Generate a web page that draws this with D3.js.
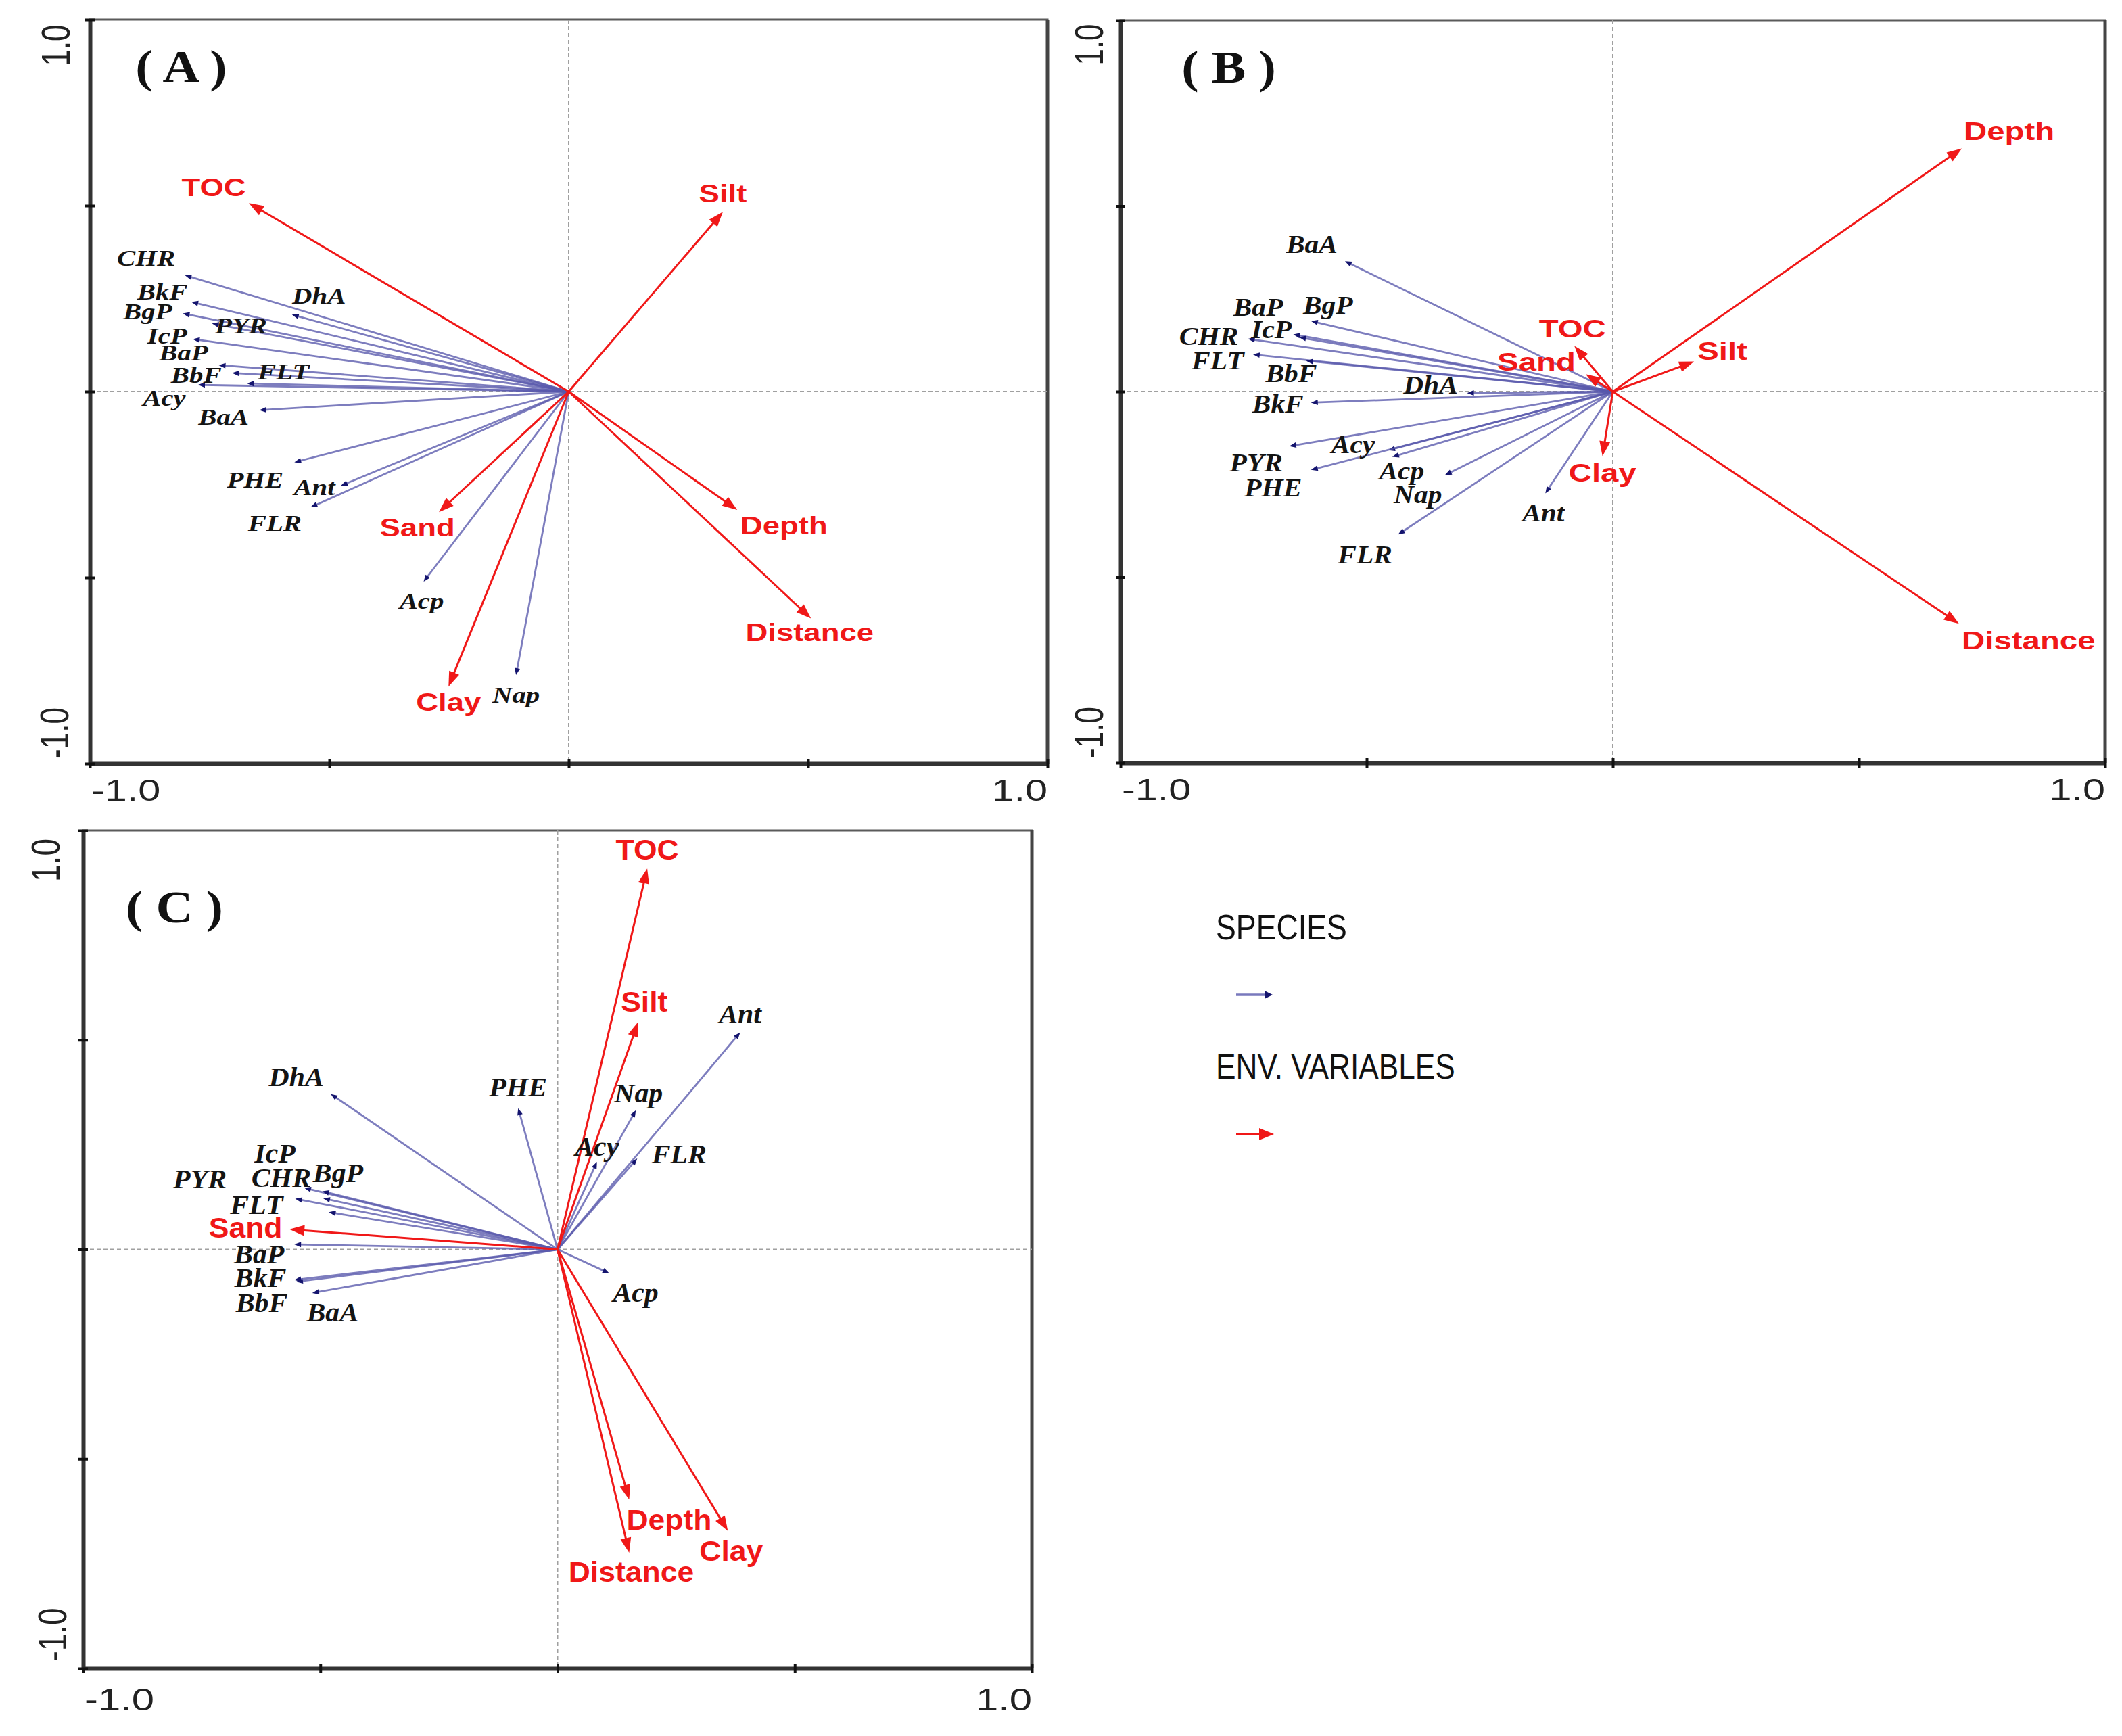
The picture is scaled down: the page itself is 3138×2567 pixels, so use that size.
<!DOCTYPE html>
<html><head><meta charset="utf-8">
<script src="https://cdn.jsdelivr.net/npm/d3@7"></script>
<style>html,body{margin:0;padding:0;background:#fff;} svg{display:block}</style>
</head><body>
<script>
// ---------------- DATA (ordination scores) ----------------
const speciesA = [
  ["Nap",-0.110,-0.762],["Acy",-0.774,0.018],["Acp",-0.303,-0.511],["FLR",-0.539,-0.311],
  ["PHE",-0.573,-0.190],["Ant",-0.476,-0.253],["FLT",-0.672,0.022],["PYR",-0.745,0.183],
  ["BaA",-0.646,-0.050],["CHR",-0.802,0.313],["BbF",-0.703,0.050],["BkF",-0.788,0.241],
  ["BaP",-0.731,0.071],["IcP",-0.785,0.141],["DhA",-0.578,0.207],["BgP",-0.806,0.210]
];
const envA = [
  ["TOC",-0.668,0.507],["Sand",-0.271,-0.324],["Silt",0.322,0.483],
  ["Clay",-0.251,-0.793],["Depth",0.352,-0.318],["Distance",0.506,-0.610]
];
const speciesB = [
  ["Nap",-0.341,-0.225],["Acy",-0.456,-0.158],["Acp",-0.448,-0.176],["FLR",-0.436,-0.385],
  ["PHE",-0.613,-0.211],["Ant",-0.137,-0.274],["FLT",-0.731,0.100],["PYR",-0.657,-0.147],
  ["BaA",-0.544,0.351],["CHR",-0.741,0.142],["BbF",-0.623,0.083],["BkF",-0.613,-0.030],
  ["BaP",-0.649,0.154],["IcP",-0.637,0.146],["DhA",-0.296,-0.004],["BgP",-0.613,0.190]
];
const envB = [
  ["TOC",-0.078,0.123],["Sand",-0.055,0.047],["Silt",0.165,0.081],
  ["Clay",-0.021,-0.174],["Depth",0.709,0.655],["Distance",0.703,-0.625]
];
const speciesC = [
  ["Nap",0.165,0.332],["Acy",0.083,0.209],["Acp",0.109,-0.057],["FLR",0.168,0.217],
  ["PHE",-0.083,0.337],["Ant",0.385,0.518],["FLT",-0.482,0.089],["PYR",-0.553,0.121],
  ["BaA",-0.517,-0.104],["CHR",-0.534,0.147],["BbF",-0.551,-0.077],["BkF",-0.555,-0.073],
  ["BaP",-0.555,0.012],["IcP",-0.496,0.139],["DhA",-0.478,0.371],["BgP",-0.494,0.122]
];
const envC = [
  ["TOC",0.189,0.909],["Sand",-0.565,0.048],["Silt",0.170,0.543],
  ["Clay",0.359,-0.672],["Depth",0.151,-0.597],["Distance",0.151,-0.724]
];
const panelLetters = ["( A )","( B )","( C )"];
const axisDomain = [-1, 1];
const tickValues = [-1, -0.5, 0, 0.5, 1];
const endTickLabels = ["-1.0", "1.0"];
const legendTitles = ["SPECIES", "ENV. VARIABLES"];

// ---------------- LAYOUT (pixel placement / label nudges) ----------------
const W = 3138, H = 2567;
const panels = [
  { species: speciesA, env: envA, letter: panelLetters[0],
    box: {x0:133, x1:1549, y0:29, y1:1129},
    sp: {size:34, sx:1.2}, ev: {size:37, sx:1.23}, ax: {size:44, sx:1.35},
    letterPos: {dx:135, dy:92},
    axPos: {topDx:-50, topDy:38, botDx:-52, botDy:-45, xDy:40},
    nudgeS: {CHR:[-57,-25],BkF:[-43,-15],BgP:[-52,-3],DhA:[40,-27],PYR:[43,3],IcP:[-38,-5],
             BaP:[-52,-18],BbF:[-53,3],FLT:[54,-17],Acy:[-50,20],BaA:[-53,10],PHE:[-58,26],
             Ant:[-39,3],FLR:[-53,24],Acp:[-3,29],Nap:[0,30]},
    nudgeE: {TOC:[-52,-23],Silt:[0,-27],Sand:[-32,23],Clay:[0,23],Depth:[69,23],Distance:[-2,21]} },
  { species: speciesB, env: envB, letter: panelLetters[1],
    box: {x0:1657, x1:3113, y0:30, y1:1128},
    sp: {size:37, sx:1.12}, ev: {size:37, sx:1.28}, ax: {size:44, sx:1.35},
    letterPos: {dx:160, dy:92},
    axPos: {topDx:-46, topDy:36, botDx:-46, botDy:-45, xDy:40},
    nudgeS: {BaA:[-49,-25],BgP:[25,-23],BaP:[-52,-40],IcP:[-41,-12],CHR:[-58,-4],FLT:[-52,9],
             BbF:[-22,19],DhA:[-54,-12],BkF:[-49,2],PYR:[-49,25],Acy:[-52,-8],PHE:[-56,26],
             Acp:[14,21],Nap:[-40,29],Ant:[-3,29],FLR:[-49,30]},
    nudgeE: {TOC:[-3,-25],Sand:[-73,-18],Clay:[0,25],Silt:[42,-15],Depth:[70,-25],Distance:[103,25]} },
  { species: speciesC, env: envC, letter: panelLetters[2],
    box: {x0:123, x1:1526, y0:1228, y1:2467},
    sp: {size:41, sx:1.02}, ev: {size:42, sx:1.06}, ax: {size:46, sx:1.3},
    letterPos: {dx:135, dy:136},
    axPos: {topDx:-56, topDy:44, botDx:-46, botDy:-50, xDy:46},
    nudgeS: {DhA:[-51,-26],CHR:[-34,-15],PYR:[-141,-29],IcP:[-70,-56],BgP:[22,-38],FLT:[-107,-11],
             BaP:[-52,14],BkF:[-50,-4],BbF:[-51,31],BaA:[30,28],PHE:[0,-32],Nap:[4,-26],
             Acy:[0,-23],FLR:[62,-7],Ant:[0,-27],Acp:[39,28]},
    nudgeE: {TOC:[0,-28],Silt:[9,-30],Sand:[-65,-2],Depth:[59,30],Distance:[3,28],Clay:[5,30]} }
];

const RED = "#f01818";
const SP_LINE = "#5858ac";
const SP_HEAD = "#14146e";
const SERIF = "'Liberation Serif','Times New Roman',serif";
const SANS = "'Liberation Sans',Arial,sans-serif";

const svg = d3.select("body").append("svg").attr("width", W).attr("height", H)
  .style("background", "#fff");

function stretchedText(g, x, y, txt, o) {
  const t = g.append("text")
    .attr("transform", `translate(${x},${y}) scale(${o.sx},1)` + (o.rot ? ` rotate(${o.rot})` : ""))
    .attr("text-anchor", o.anchor || "middle")
    .attr("dominant-baseline", o.baseline || "central")
    .attr("font-family", o.family).attr("font-size", o.size)
    .attr("fill", o.fill || "#111").text(txt);
  if (o.italic) t.attr("font-style", "italic");
  if (o.bold) t.attr("font-weight", "bold");
  return t;
}

function drawArrow(g, x0, y0, x1, y1, o) {
  const ang = Math.atan2(y1 - y0, x1 - x0);
  const c = Math.cos(ang), s = Math.sin(ang);
  const bx = x1 - c * o.head, by = y1 - s * o.head;
  g.append("line").attr("x1", x0).attr("y1", y0)
    .attr("x2", x1 - c * o.head * 0.7).attr("y2", y1 - s * o.head * 0.7)
    .attr("stroke", o.stroke).attr("stroke-width", o.width)
    .attr("stroke-opacity", o.opacity || 1);
  g.append("path")
    .attr("d", `M${x1},${y1}L${bx - s * o.half},${by + c * o.half}L${bx + s * o.half},${by - c * o.half}Z`)
    .attr("fill", o.fill);
}

panels.forEach(p => {
  const b = p.box;
  const x = d3.scaleLinear().domain(axisDomain).range([b.x0, b.x1]);
  const y = d3.scaleLinear().domain(axisDomain).range([b.y1, b.y0]);
  const g = svg.append("g");

  // frame
  g.append("rect").attr("x", b.x0).attr("y", b.y0)
    .attr("width", b.x1 - b.x0).attr("height", b.y1 - b.y0)
    .attr("fill", "none").attr("stroke", "#5a5a5a").attr("stroke-width", 3);
  g.append("line").attr("x1", b.x1).attr("x2", b.x1).attr("y1", b.y0).attr("y2", b.y1)
    .attr("stroke", "#444").attr("stroke-width", 5);

  // zero crosshair dashed
  g.append("line").attr("x1", x(0)).attr("x2", x(0)).attr("y1", b.y0).attr("y2", b.y1)
    .attr("stroke", "#a0a0a0").attr("stroke-width", 2).attr("stroke-dasharray", "6,4");
  g.append("line").attr("x1", b.x0).attr("x2", b.x1).attr("y1", y(0)).attr("y2", y(0))
    .attr("stroke", "#a0a0a0").attr("stroke-width", 2).attr("stroke-dasharray", "6,4");

  // axes
  const xa = g.append("g").attr("transform", `translate(0,${b.y1})`)
    .call(d3.axisBottom(x).tickValues(tickValues).tickFormat("").tickSize(7).tickSizeOuter(0));
  const ya = g.append("g").attr("transform", `translate(${b.x0},0)`)
    .call(d3.axisLeft(y).tickValues(tickValues).tickFormat("").tickSize(7).tickSizeOuter(0));
  [xa, ya].forEach(a => {
    a.select(".domain").attr("stroke", "#333").attr("stroke-width", 6);
    a.selectAll(".tick line").attr("stroke", "#111").attr("stroke-width", 4);
  });
  xa.selectAll(".tick line").attr("y1", -7).attr("y2", 7);
  ya.selectAll(".tick line").attr("x1", -7).attr("x2", 7);

  // species arrows
  p.species.forEach(d => {
    drawArrow(g, x(0), y(0), x(d[1]), y(d[2]),
      {stroke: SP_LINE, width: 2.8, opacity: 0.78, head: 10, half: 4, fill: SP_HEAD});
  });
  // environmental arrows
  p.env.forEach(d => {
    drawArrow(g, x(0), y(0), x(d[1]), y(d[2]),
      {stroke: RED, width: 3, head: 22, half: 8, fill: RED});
  });

  // labels
  p.species.forEach(d => {
    const n = p.nudgeS[d[0]] || [0, 0];
    stretchedText(g, x(d[1]) + n[0], y(d[2]) + n[1], d[0],
      {sx: p.sp.sx, size: p.sp.size, family: SERIF, italic: true, bold: true, fill: "#141414"});
  });
  p.env.forEach(d => {
    const n = p.nudgeE[d[0]] || [0, 0];
    stretchedText(g, x(d[1]) + n[0], y(d[2]) + n[1], d[0],
      {sx: p.ev.sx, size: p.ev.size, family: SANS, bold: true, fill: RED});
  });

  // panel letter
  stretchedText(g, b.x0 + p.letterPos.dx, b.y0 + p.letterPos.dy, p.letter,
    {sx: 1.12, size: 68, family: SERIF, bold: true, baseline: "alphabetic", fill: "#111"});

  // axis end labels
  const ax = p.axPos;
  stretchedText(g, b.x0 + ax.topDx, b.y0 + ax.topDy, endTickLabels[1],
    {sx: p.ax.sx, size: p.ax.size, family: SANS, rot: -90, fill: "#222"});
  stretchedText(g, b.x0 + ax.botDx, b.y1 + ax.botDy, endTickLabels[0],
    {sx: p.ax.sx, size: p.ax.size, family: SANS, rot: -90, fill: "#222"});
  stretchedText(g, x(-1) + 2, b.y1 + ax.xDy, endTickLabels[0],
    {sx: p.ax.sx, size: p.ax.size, family: SANS, anchor: "start", fill: "#222"});
  stretchedText(g, x(1), b.y1 + ax.xDy, endTickLabels[1],
    {sx: p.ax.sx, size: p.ax.size, family: SANS, anchor: "end", fill: "#222"});
});

// legend
const lg = svg.append("g");
stretchedText(lg, 1798, 1371, legendTitles[0],
  {sx: 0.86, size: 52, family: SANS, anchor: "start", fill: "#111"});
drawArrow(lg, 1828, 1471, 1882, 1471,
  {stroke: SP_LINE, width: 3.5, opacity: 0.8, head: 12, half: 6, fill: SP_HEAD});
stretchedText(lg, 1798, 1577, legendTitles[1],
  {sx: 0.85, size: 52, family: SANS, anchor: "start", fill: "#111"});
drawArrow(lg, 1828, 1677, 1884, 1677,
  {stroke: RED, width: 3.5, head: 22, half: 9, fill: RED});
</script>
</body></html>
